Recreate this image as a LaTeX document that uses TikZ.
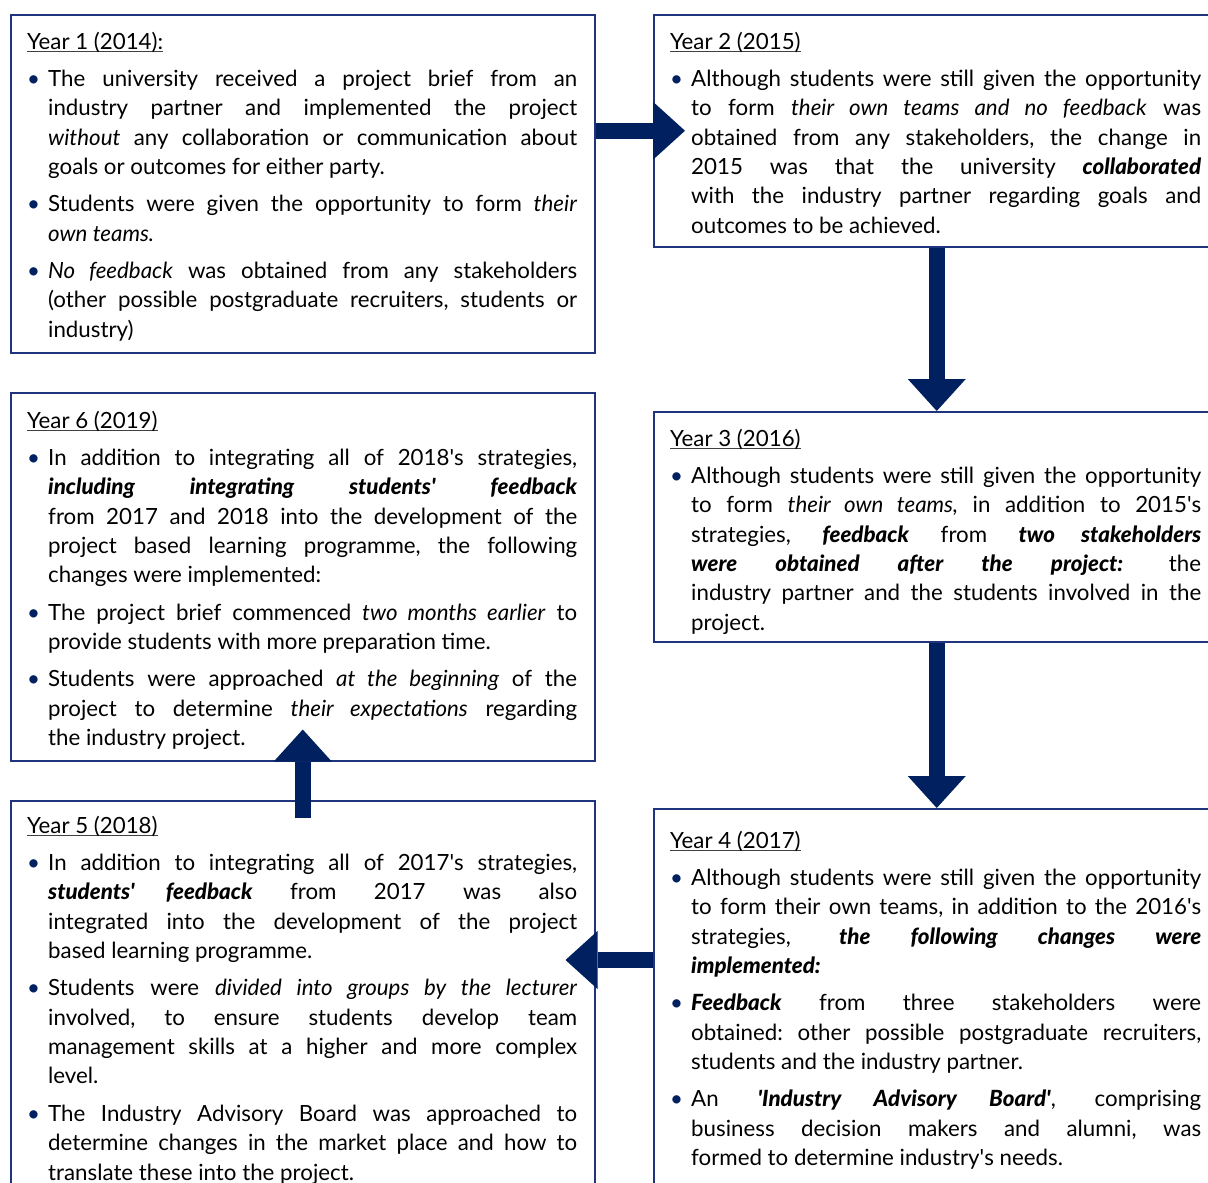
\documentclass[tikz,border=0pt]{standalone}
\usepackage{fontspec}
\setmainfont{Lato}[BoldItalicFont={Lato Black Italic}]
\usetikzlibrary{arrows.meta,positioning}
\definecolor{navy}{RGB}{0,32,96}
\definecolor{boxblue}{RGB}{31,52,125}
\newcommand\keyit[1]{\textbf{\textit{#1}}}
\newcommand\apo{\textquotesingle}
\newcommand\yeartitle[1]{\setbox0\hbox{#1}\rule{0pt}{20pt}\rlap{\color{black!75}\rule[-2.6pt]{\wd0}{0.9pt}}\box0\par}
\newenvironment{yearlist}{\begin{list}{\textcolor{navy}{\textbullet}\hfill}{\setlength{\leftmargin}{21pt}\setlength{\labelwidth}{21pt}\setlength{\labelsep}{0pt}\setlength{\itemindent}{0pt}\setlength{\itemsep}{7.9pt}\setlength{\parsep}{0pt}\setlength{\topsep}{7.6pt}\setlength{\partopsep}{0pt}}}{\end{list}}

\begin{document}
\begin{tikzpicture}[x=1pt,y=1pt,
  yearbox/.style={draw=boxblue,line width=1.5pt,anchor=north west,inner sep=0pt},
  yeartext/.style={inner sep=0pt,align=justify,font={\fontsize{22.3pt}{29.4pt}\selectfont\frenchspacing\tolerance=10000\hbadness=10000\hyphenpenalty=10000}},
  flow/.style={draw=navy,line width=16pt,-{Triangle[width=58pt,length=32pt,line width=0pt]}}]
  \useasboundingbox (0,0) rectangle (1208,-1183);
  \fill[white] (0,0) rectangle (1208,-1183);

  \node[yearbox,minimum width=584pt,minimum height=338pt] (y1) at (10,-14) {};
  \node[yearbox,minimum width=566pt,minimum height=232pt] (y2) at (653,-14) {};
  \node[yearbox,minimum width=566pt,minimum height=230pt] (y3) at (653,-411) {};
  \node[yearbox,minimum width=566pt,minimum height=420pt] (y4) at (653,-808) {};
  \node[yearbox,minimum width=584pt,minimum height=410pt] (y5) at (10,-800) {};
  \node[yearbox,minimum width=584pt,minimum height=368pt] (y6) at (10,-392) {};

  \node[yeartext,text width=550pt,below right=15pt and 17pt of y1.north west] (t1) {%
    \yeartitle{Year 1 (2014):}
    \begin{yearlist}
    \item The university received a project brief from an\linebreak
      industry partner and implemented the project\linebreak
      \textit{without} any collaboration or communication about\linebreak
      goals or outcomes for either party.
    \item Students were given the opportunity to form \textit{their}\linebreak
      \textit{own teams.}
    \item \textit{No feedback} was obtained from any stakeholders\linebreak
      (other possible postgraduate recruiters, students or\linebreak
      industry)
    \end{yearlist}};

  \node[yeartext,text width=531pt,below right=15pt and 17pt of y2.north west] (t2) {%
    \yeartitle{Year 2 (2015)}
    \begin{yearlist}
    \item Although students were still given the opportunity\linebreak
      to form \textit{their own teams and no feedback} was\linebreak
      obtained from any stakeholders, the change in\linebreak
      2015 was that the university \keyit{collaborated}\linebreak
      with the industry partner regarding goals and\linebreak
      outcomes to be achieved.
    \end{yearlist}};

  \node[yeartext,text width=531pt,below right=15pt and 17pt of y3.north west] (t3) {%
    \yeartitle{Year 3 (2016)}
    \begin{yearlist}
    \item Although students were still given the opportunity\linebreak
      to form \textit{their own teams,} in addition to 2015\apo s\linebreak
      strategies, \keyit{feedback} from \keyit{two stakeholders}\linebreak
      \keyit{were obtained after the project:} the\linebreak
      industry partner and the students involved in the\linebreak
      project.
    \end{yearlist}};

  \node[yeartext,text width=531pt,below right=20pt and 17pt of y4.north west] (t4) {%
    \yeartitle{Year 4 (2017)}
    \begin{yearlist}
    \item Although students were still given the opportunity\linebreak
      to form their own teams, in addition to the 2016\apo s\linebreak
      strategies, \keyit{the following changes were}\linebreak
      \keyit{implemented:}
    \item \keyit{Feedback} from three stakeholders were\linebreak
      obtained: other possible postgraduate recruiters,\linebreak
      students and the industry partner.
    \item An \keyit{\apo Industry Advisory Board\apo}, comprising\linebreak
      business decision makers and alumni, was\linebreak
      formed to determine industry\apo s needs.
    \end{yearlist}};

  \node[yeartext,text width=550pt,below right=13pt and 17pt of y5.north west] (t5) {%
    \yeartitle{Year 5 (2018)}
    \begin{yearlist}
    \item In addition to integrating all of 2017\apo s strategies,\linebreak
      \keyit{students\apo\ feedback} from 2017 was also\linebreak
      integrated into the development of the project\linebreak
      based learning programme.
    \item Students were \textit{divided into groups by the lecturer}\linebreak
      involved, to ensure students develop team\linebreak
      management skills at a higher and more complex\linebreak
      level.
    \item The Industry Advisory Board was approached to\linebreak
      determine changes in the market place and how to\linebreak
      translate these into the project.
    \end{yearlist}};

  \node[yeartext,text width=550pt,below right=16pt and 17pt of y6.north west] (t6) {%
    \yeartitle{Year 6 (2019)}
    \begin{yearlist}
    \item In addition to integrating all of 2018\apo s strategies,\linebreak
      \keyit{including integrating students\apo\ feedback}\linebreak
      from 2017 and 2018 into the development of the\linebreak
      project based learning programme, the following\linebreak
      changes were implemented:
    \item The project brief commenced \textit{two months earlier} to\linebreak
      provide students with more preparation time.
    \item Students were approached \textit{at the beginning} of the\linebreak
      project to determine \textit{their expectations} regarding\linebreak
      the industry project.
    \end{yearlist}};

  \coordinate (j45) at (620,-960);
  \draw[flow,shorten >=-32pt] (y1.east |- y2.west) -- (y2.west);
  \draw[flow] (y2.south) -- (y3.north);
  \draw[flow] (y3.south) -- (y4.north);
  \draw[flow,shorten >=-30pt] (y4.west |- j45) -- (y5.east |- j45);
  \draw[flow,shorten <=-18pt,shorten >=-32pt] (y5.north) -- (y6.south);
\end{tikzpicture}
\end{document}
